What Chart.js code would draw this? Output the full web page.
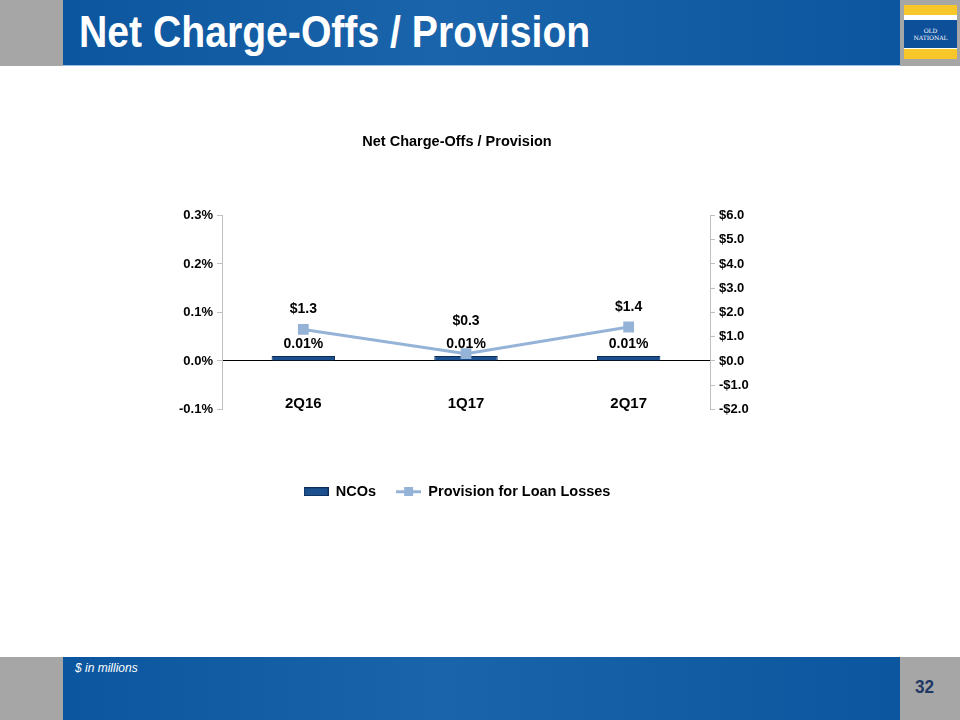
<!DOCTYPE html>
<html>
<head>
<meta charset="utf-8">
<script src="https://cdn.jsdelivr.net/npm/chart.js@4.4.1/dist/chart.umd.min.js"></script>
<style>
  body { margin: 0; width: 960px; height: 720px; position: relative; background: #fff; overflow: hidden;
         font-family: "Liberation Sans Narrow", "Arial Narrow", "Liberation Sans", Arial, sans-serif; }
  .gray { position: absolute; background: #a6a6a6; }
  .blue { position: absolute; background: linear-gradient(90deg, #0b569e 0%, #1a64ab 45%, #0b569e 100%); }
  #head-title { position: absolute; left: 79px; top: 6px; color: #fff; font-weight: bold; font-size: 45px;
                transform: scaleX(0.87); transform-origin: left top; white-space: nowrap; }
  #logo { position: absolute; left: 904px; top: 5px; width: 53px; height: 54px; background: #fff; }
  #logo .y { position: absolute; left: 0; width: 53px; height: 10px; background: #f7c72a; }
  #logo .b { position: absolute; left: 0; top: 15px; width: 53px; height: 28px; background: #0e4f9a; color: #fff;
             font-family: "DejaVu Serif", "Liberation Serif", serif; font-size: 6px; text-align: center; line-height: 7px; padding-top: 7px; box-sizing: border-box; }
  #note { position: absolute; left: 75px; top: 661px; color: #fff; font-style: italic; font-size: 12px; font-family: "Liberation Sans", Arial, sans-serif; }
  #page { position: absolute; left: 915px; top: 676px; color: #1f3864; font-weight: bold; font-size: 19px;
          transform: scaleX(0.9); transform-origin: left top; }
  #wrap { position: absolute; left: 0; top: 65px; width: 914px; height: 592px; }
</style>
</head>
<body>
<div class="gray" style="left:0;top:0;width:63px;height:66px"></div>
<div class="blue" style="left:63px;top:0;width:837px;height:65px"></div>
<div class="gray" style="left:900px;top:0;width:60px;height:66px"></div>
<div style="position:absolute;left:63px;top:65px;width:837px;height:1px;background:#9dbde0"></div>
<div id="head-title">Net Charge-Offs / Provision</div>
<div id="logo">
  <div class="y" style="top:0"></div>
  <div class="b">OLD<br>NATIONAL</div>
  <div class="y" style="top:44px"></div>
</div>

<div id="wrap"><canvas id="grafico"></canvas></div>

<div class="gray" style="left:0;top:657px;width:63px;height:63px"></div>
<div class="blue" style="left:63px;top:657px;width:837px;height:63px"></div>
<div class="gray" style="left:900px;top:657px;width:60px;height:63px"></div>
<div id="note">$ in millions</div>
<div id="page">32</div>

<script>
var categorias = ["2Q16", "1Q17", "2Q17"];
var ncos = [0.01, 0.01, 0.01];
var provision = [1.3, 0.3, 1.4];
var ticksPct = [-0.1, 0.0, 0.1, 0.2, 0.3];
var ticksDolares = [-2, -1, 0, 1, 2, 3, 4, 5, 6];

var FUENTE = '"Liberation Sans Narrow", "Arial Narrow", "Liberation Sans", Arial, sans-serif';
var AZUL_BARRA = "#1b4f8d";
var BORDE_BARRA = "#0c2b55";
var AZUL_LINEA = "#95b3d7";

function fmtDolar(v) {
    return (v < 0 ? "-$" : "$") + Math.abs(v).toFixed(1);
}

// iconos de la leyenda
function iconoBarra() {
    var c = document.createElement("canvas");
    c.width = 25; c.height = 9;
    var g = c.getContext("2d");
    g.fillStyle = BORDE_BARRA; g.fillRect(0, 0, 25, 9);
    g.fillStyle = AZUL_BARRA; g.fillRect(1, 1, 23, 7);
    return c;
}
function iconoLinea() {
    var c = document.createElement("canvas");
    c.width = 25; c.height = 9;
    var g = c.getContext("2d");
    g.fillStyle = AZUL_LINEA;
    g.fillRect(0, 3, 25, 3);
    g.fillRect(8, 0, 9, 9);
    return c;
}

var etiquetas = {
    id: "etiquetas",
    afterDatasetsDraw: function (chart) {
        var ctx = chart.ctx;
        var area = chart.chartArea;
        var x = chart.scales.x;
        ctx.save();
        ctx.fillStyle = "#000";
        ctx.textAlign = "center";
        ctx.textBaseline = "middle";
        ctx.font = "bold 15px " + FUENTE;
        categorias.forEach(function (c, i) {
            ctx.fillText(c, x.getPixelForValue(i), area.bottom - 6);
        });
        ctx.font = "bold 14px " + FUENTE;
        var barras = chart.getDatasetMeta(0).data;
        var puntos = chart.getDatasetMeta(1).data;
        barras.forEach(function (b, i) {
            var yb = b.y - 12;
            ctx.fillText(ncos[i].toFixed(2) + "%", b.x, yb);
            var p = puntos[i];
            var yp = Math.min(p.y - 20, yb - 23);
            ctx.fillText(fmtDolar(provision[i]), p.x, yp);
        });
        ctx.restore();
    }
};

document.addEventListener("DOMContentLoaded", function () {
    var ctx = document.getElementById("grafico").getContext("2d");
    Chart.defaults.font.family = FUENTE;
    Chart.defaults.color = "#000";
    var myChart = new Chart(ctx, {
        data: {
            labels: categorias,
            datasets: [
                {
                    type: "bar",
                    label: "NCOs",
                    data: ncos,
                    yAxisID: "y",
                    backgroundColor: AZUL_BARRA,
                    borderColor: BORDE_BARRA,
                    borderWidth: 1,
                    categoryPercentage: 1,
                    barPercentage: 0.39,
                    order: 2
                },
                {
                    type: "line",
                    label: "Provision for Loan Losses",
                    data: provision,
                    yAxisID: "y1",
                    borderColor: AZUL_LINEA,
                    backgroundColor: AZUL_LINEA,
                    borderWidth: 3,
                    pointStyle: "rect",
                    pointRadius: 5.5,
                    pointHoverRadius: 5.5,
                    tension: 0,
                    order: 1
                }
            ]
        },
        options: {
            responsive: true,
            maintainAspectRatio: false,
            animation: false,
            layout: { padding: { left: 0, right: 0, top: 0, bottom: 148 } },
            plugins: {
                title: {
                    display: true,
                    text: "Net Charge-Offs / Provision",
                    font: { size: 14.5, weight: "bold" },
                    color: "#000",
                    padding: { top: 68, bottom: 65 }
                },
                legend: {
                    position: "bottom",
                    labels: {
                        usePointStyle: true,
                        pointStyleWidth: 25,
                        font: { size: 14.5, weight: "bold" },
                        color: "#000",
                        padding: 20,
                        generateLabels: function (chart) {
                            return [
                                { text: "NCOs", pointStyle: iconoBarra(), datasetIndex: 0, fillStyle: AZUL_BARRA, strokeStyle: AZUL_BARRA, lineWidth: 0 },
                                { text: "Provision for Loan Losses", pointStyle: iconoLinea(), datasetIndex: 1, fillStyle: AZUL_LINEA, strokeStyle: AZUL_LINEA, lineWidth: 0 }
                            ];
                        }
                    }
                },
                tooltip: { enabled: false }
            },
            scales: {
                x: {
                    type: "category",
                    labels: categorias,
                    grid: { display: false },
                    border: { display: false },
                    ticks: { display: false },
                    afterFit: function (s) { s.height = 55; }
                },
                y: {
                    position: "left",
                    min: -0.1,
                    max: 0.3,
                    afterBuildTicks: function (s) { s.ticks = ticksPct.map(function (v) { return { value: v }; }); },
                    ticks: {
                        font: { size: 13, weight: "bold" },
                        padding: 4,
                        callback: function (v) { return v.toFixed(1) + "%"; }
                    },
                    grid: {
                        drawOnChartArea: true,
                        color: function (c) { return c.tick && Math.abs(c.tick.value) < 1e-9 ? "#000" : "rgba(0,0,0,0)"; },
                        tickColor: "#bfbfbf",
                        tickLength: 5
                    },
                    border: { color: "#bfbfbf" },
                    afterFit: function (s) { s.width = 222; }
                },
                y1: {
                    position: "right",
                    min: -2,
                    max: 6,
                    afterBuildTicks: function (s) { s.ticks = ticksDolares.map(function (v) { return { value: v }; }); },
                    ticks: {
                        font: { size: 13, weight: "bold" },
                        padding: 4,
                        callback: function (v) { return fmtDolar(v); }
                    },
                    grid: { drawOnChartArea: false, tickColor: "#bfbfbf", tickLength: 5 },
                    border: { color: "#bfbfbf" },
                    afterFit: function (s) { s.width = 204; }
                }
            }
        },
        plugins: [etiquetas]
    });
});
</script>
</body>
</html>
